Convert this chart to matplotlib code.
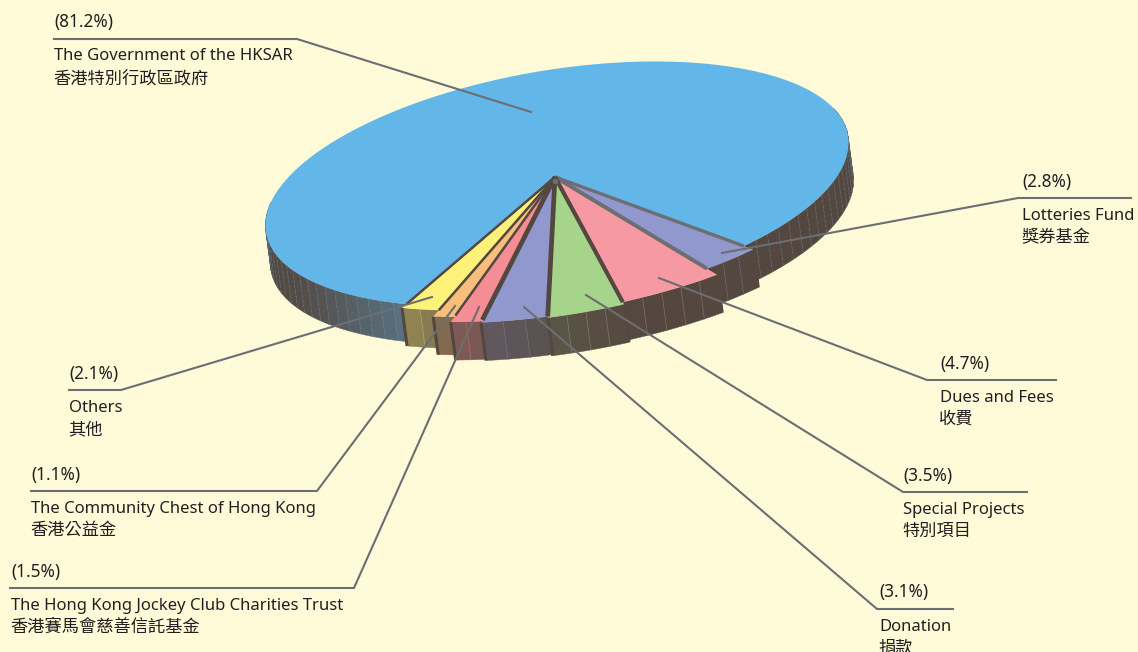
import numpy as np
import matplotlib
matplotlib.use("Agg")
import matplotlib.pyplot as plt

# shares in percent, going round from the right hand side through the front
names_en = ["Lotteries Fund", "Dues and Fees", "Special Projects", "Donation",
            "The Hong Kong Jockey Club Charities Trust",
            "The Community Chest of Hong Kong", "Others",
            "The Government of the HKSAR"]
names_zh = ["獎券基金", "收費", "特別項目", "捐款", "香港賽馬會慈善信託基金",
            "香港公益金", "其他", "香港特別行政區政府"]
shares = [2.8, 4.7, 3.5, 3.1, 1.5, 1.1, 2.1, 81.2]

colors = ["#9098CE", "#F799A3", "#A6D48A", "#9098CE", "#F58D94", "#F8BF7C",
          "#FFF27A", "#62B6E8"]
# how far each slice sticks out of the disc
explode = [1.05, 1.12, 1.14, 1.13, 1.12, 1.08, 1.03, 1.0]

BG = "#FFFBD9"
DARK = "#53473F"
GREY = "#6D6E71"

# ellipse of the top face, in pixels
center = np.array([557.0, 184.0])
apex = np.array([555.0, 177.0])
semi_a, semi_b = 295.0, 114.0
tilt = np.radians(9.5)
e1 = np.array([np.cos(tilt), -np.sin(tilt)])
e2 = np.array([np.sin(tilt), np.cos(tilt)])
persp = complex(0, -0.025)
drop = np.array([5.0, 38.0])
start_angle = 55.5


def rim(theta, factor=1.0):
    """disc angle in degrees to a pixel point on the rim"""
    z = np.exp(1j * np.radians(np.atleast_1d(theta)))
    w = (z + persp) / (1 + np.conj(persp) * z)
    pts = center + np.outer(w.real, semi_a * e1) + np.outer(w.imag, semi_b * e2)
    return apex + factor * (pts - apex)


def side_color(col, x):
    # the sides pick up some colour only around the front left
    w = np.interp(x, [265, 300, 400, 420, 475, 525, 590, 650],
                  [0, 0.05, 0.38, 0.32, 0.24, 0.15, 0.05, 0])
    a = np.array(matplotlib.colors.to_rgb(col))
    b = np.array(matplotlib.colors.to_rgb(DARK))
    return tuple(w * a + (1 - w) * b)


def draw_side(ax, th0, th1, factor, col, step, dashed=False):
    n = max(int(round((th1 - th0) / step)), 1)
    edges = np.linspace(th0, th1, n + 1)
    for a0, a1 in zip(edges[:-1], edges[1:]):
        arc = rim(np.linspace(a0, a1, 6), factor)
        poly = np.vstack([arc, arc[::-1] + drop])
        c = side_color(col, arc[:, 0].mean())
        ax.fill(poly[:, 0], poly[:, 1], color=c, lw=0.3, zorder=2)
    for a in edges[1:-1]:
        p = rim(a, factor)[0]
        line_col = tuple(0.3 * np.array(matplotlib.colors.to_rgb(col))
                         + 0.7 * np.array(side_color(col, p[0])))
        ax.plot([p[0], p[0] + drop[0]], [p[1], p[1] + drop[1]], color=line_col,
                lw=0.6, zorder=2, ls=(0, (4, 2)) if dashed else "-")


fig = plt.figure(figsize=(11.38, 6.52), dpi=100, facecolor=BG)
ax = fig.add_axes([0, 0, 1, 1])
ax.set_xlim(0, 1138)
ax.set_ylim(652, 0)
ax.axis("off")

spans = np.array(shares) * 3.6
bounds = start_angle + np.concatenate([[0], np.cumsum(spans)])

# only the front of the big slice wall can be seen
draw_side(ax, bounds[7], 192.0, explode[7], colors[7], 3.0, dashed=True)
draw_side(ax, 348.0, bounds[8], explode[7], colors[7], 3.0, dashed=True)
arc = rim(np.linspace(bounds[7], bounds[8], 300))
ax.fill(np.r_[apex[0], arc[:, 0]], np.r_[apex[1], arc[:, 1]],
        color=colors[7], lw=0, zorder=3)

for i in [0, 1, 2, 6, 5, 4, 3]:
    draw_side(ax, bounds[i], bounds[i + 1], explode[i], colors[i], 3.4)
    # dark wall down the end of each slice
    for a in (bounds[i], bounds[i + 1]):
        p = rim(a, explode[i])[0]
        ax.plot([p[0], p[0] + drop[0]], [p[1], p[1] + drop[1]], color=DARK,
                lw=2.2, zorder=2, solid_capstyle="butt")

for i in range(7):
    arc = rim(np.linspace(bounds[i], bounds[i + 1], 40), explode[i])
    ax.fill(np.r_[apex[0], arc[:, 0]], np.r_[apex[1], arc[:, 1]],
            color=colors[i], lw=0, zorder=4)

# dividers between the slices
edge_cols = [GREY, GREY, DARK, DARK, DARK, DARK, DARK, DARK]
edge_lw = [2.4, 2.8, 3.0, 3.4, 3.4, 1.8, 1.8, 1.8]
edge_fac = [1.0, 1.05, 1.12, 1.13, 1.11, 1.07, 1.03, 1.0]
for a, c, lw, f in zip(bounds[:8], edge_cols, edge_lw, edge_fac):
    p = rim(a, f)[0]
    ax.plot([apex[0], p[0]], [apex[1], p[1]], color=c, lw=lw, zorder=5,
            solid_capstyle="butt")
ax.plot([apex[0]], [apex[1] + 4], "o", color=GREY, ms=4, mew=0, zorder=6)

# leader lines: label end, elbow, point on the pie
leaders = [
    [(1131, 198), (1018, 198), (722, 253)],
    [(1056, 380), (927, 380), (659, 278)],
    [(1027, 492), (903, 492), (586, 295)],
    [(953, 609), (877, 609), (524, 307)],
    [(10, 588), (354, 588), (479, 307)],
    [(31, 491), (317, 491), (455, 306)],
    [(69, 390), (121, 390), (432, 297)],
    [(54, 39), (297, 39), (531, 112)],
]
for pts in leaders:
    xs, ys = zip(*pts)
    ax.plot(xs, ys, color=GREY, lw=1.5, zorder=7, solid_joinstyle="miter")

# x, then y of the percent, name and chinese lines
label_pos = [(1022, 182, 216, 237), (940, 364, 398, 419), (903, 476, 510, 531),
             (879, 592, 627, 648), (11, 572, 606, 627), (31, 475, 509, 530),
             (69, 374, 408, 429), (54, 22, 56, 79)]
txt = "#231F20"
for en, zh, s, (x, y0, y1, y2) in zip(names_en, names_zh, shares, label_pos):
    ax.text(x, y0, "(%.1f%%)" % s, fontsize=12.4, color=txt, va="center",
            family="Noto Sans", zorder=8)
    ax.text(x, y1, en, fontsize=12, color=txt, va="center",
            family="Noto Sans", zorder=8)
    ax.text(x - 1, y2, zh, fontsize=12.4, color=txt, va="center",
            family="Noto Sans CJK TC", zorder=8)

fig.savefig("out.png", dpi=100, facecolor=BG)
